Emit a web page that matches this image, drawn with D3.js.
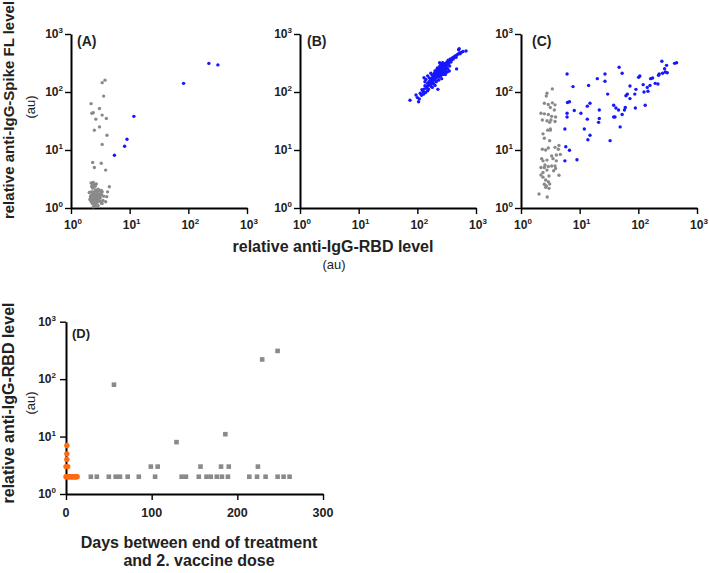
<!DOCTYPE html>
<html><head><meta charset="utf-8">
<script src="https://cdn.jsdelivr.net/npm/d3@7/dist/d3.min.js"></script>
<style>body{margin:0;background:#fff}svg{display:block}text{font-family:"Liberation Sans",Arial,sans-serif}</style>
</head><body><svg id="c" width="709" height="573"></svg>
<script>
// ---------- DATA ----------
const logTicks=[1,10,100,1000];
const panelLabels=["(A)","(B)","(C)","(D)"];
const dTicks=[0,100,200,300];
// Panel A: [RBD, Spike FL]
const aGray=[[3.8,160],[3.4,145],[3.6,85],[2.2,63],[3.06,52],[2.27,43],[2.4,44],[3.4,40],[2.65,34],[4.0,35],[3.06,25],[2.5,22],[4.1,18],[3.4,12.5],
[2.34,6.1],[3.28,5.9],[2.5,5.0],[3.9,4.5],[4.5,2.33],[4.2,1.9],[4.06,1.57],[3.9,1.28],[3.37,1.2],
[2.2,2.7],[2.3,2.6],[2.4,2.75],[2.5,2.5],[2.6,2.4],[2.25,2.35],[2.45,2.3],[2.7,2.6],[2.35,2.2],
[2.2,1.9],[2.4,1.85],[2.6,1.95],[2.8,1.9],[3.0,2.0],[3.2,1.8],[3.4,1.9],[2.3,1.7],[2.5,1.75],[2.7,1.7],[2.9,1.75],[3.1,1.65],[3.3,1.7],
[2.15,1.55],[2.35,1.6],[2.55,1.55],[2.75,1.6],[2.95,1.55],[3.15,1.5],[2.25,1.45],[2.45,1.4],[2.65,1.45],[2.85,1.4],[3.05,1.35],
[2.2,1.3],[2.4,1.35],[2.6,1.3],[2.8,1.25],[2.3,1.2],[2.5,1.15],[2.7,1.2],[2.9,1.1],[2.4,1.05],[2.6,1.08],[3.35,1.2],[2.1,1.4],[2.2,1.65],
[3.6,1.6],[3.5,1.35],[2.35,1.9],[2.65,2.05],[2.9,2.1],[3.3,2.0],[2.45,1.25],[2.75,1.35],[3.0,1.5],[3.2,1.28],[2.55,1.65],[2.05,1.85]];
const aBlue=[[5.5,8.1],[8.2,11.6],[9.0,15.3],[11.8,38],[83,141],[224,311],[319,293]];
// Panel B
const bBlue=[[75,72],[105,68],[108,76],[95,89],[100,80],[112,95],[118,88],[125,102],[130,112],[120,110],[138,98],[142,118],[135,128],[148,125],
[150,140],[155,112],[160,132],[158,150],[165,145],[168,160],[172,125],[175,170],[178,150],[182,165],[185,180],[188,140],[190,172],[192,195],
[195,160],[198,185],[200,205],[202,170],[205,190],[208,215],[210,178],[212,200],[215,225],[218,188],[220,210],[222,240],[225,195],[228,220],
[230,235],[232,180],[235,205],[238,250],[240,225],[242,195],[245,215],[248,240],[250,265],[252,205],[255,230],[258,250],[260,215],[262,280],
[265,240],[268,225],[270,260],[272,200],[275,245],[278,290],[280,230],[282,265],[285,250],[288,300],[290,220],[295,275],[298,255],[300,310],
[305,240],[310,285],[315,265],[320,330],[325,300],[330,250],[335,355],[340,310],[350,340],[355,280],[365,370],[375,330],[385,360],[400,390],
[410,370],[420,400],[440,420],[455,395],[467,250],[470,430],[490,450],[505,537],[517,558],[520,470],[535,457],[560,480],[600,500],[676,510],
[220,260],[240,270],[200,230],[180,195],[160,175],[250,190],[265,205],[285,225],[305,260],[230,160],[210,150],[195,210],[175,140],[255,300],
[270,320],[245,285],[215,245],[150,105],[128,92],[135,150],[224,111],[130,176],[341,333],[277,311],
[150,190],[180,120],[260,170],[300,200],[200,130],[320,220],[170,210],[140,165],[240,320],[350,230]];
// Panel C
const cGray=[[3.42,113],[2.77,95],[2.7,85],[2.5,64],[2.92,61],[3.42,65],[3.8,60],[3.16,54],[3.7,49],[2.5,42],[2.92,41],[3.33,38],[3.89,37],
[2.19,43],[2.31,33],[2.77,32],[3.24,33],[3.08,30],[3.8,31],[3.16,22],[2.85,22],[3.16,23],[2.37,19],[2.5,16],[3.08,14.5],[2.31,10.3],[2.63,10],
[2.92,10.8],[4.44,12],[3.8,11.1],[4.33,10.3],[3.33,7.9],[4.0,8.2],[4.68,8.4],[2.25,7.1],[2.37,6.5],[2.77,6.7],[3.51,7.1],[4.0,6.5],[2.56,5.5],
[2.19,5.0],[2.5,5.0],[2.92,5.2],[3.33,5.3],[3.89,4.8],[2.77,4.5],[3.6,4.4],[2.19,3.7],[2.37,3.4],[3.0,3.56],[2.63,3.04],[2.92,2.84],[2.5,2.56],
[2.7,2.4],[3.08,2.6],[2.63,2.27],[3.0,2.18],[2.03,1.74],[2.8,1.55],[4.44,3.66],[3.8,5.3],[2.37,4.1]];
const cBlue=[[6.1,204],[7.7,124],[6.2,66],[6.7,68],[6.1,43],[6.1,37],[8.1,48],[10.5,43],[5.6,23],[12,23],[5.8,11.4],[6.7,9.9],[5.6,6.5],[9.0,6.8],
[14.2,130],[20,170],[27,204],[27,153],[47,267],[53,210],[30,92],[13.5,57],[15,64],[21.6,49],[21.6,35],[21,30],[13.5,34],[15,18],[13.8,15],
[33,14.5],[38,59],[41.5,53],[46,49],[38,37],[40,37],[49,25],[53,41],[60,54],[58,49],[61.5,86],[65,92],[72,127],[72,77],[89,53],[87,92],
[91,111],[101,179],[106,189],[121,134],[131,59],[125,100],[142,120],[146,103],[158,130],[162,170],[175,174],[194,141],[216,137],[221,194],
[227,204],[252,338],[259,210],[288,221],[280,252],[303,288],[311,215],[415,312],[449,320]];
// Panel D: days, relative anti-IgG-RBD level
const dGrayDays=[29,36,50,58,63,72,85,104,135,140,155,164,169,176,182,189,214,223,233,247,254,261,99,107,157,181,190,224,129,186,56,229,247];
const dGrayVals=[2,2,2,2,2,2,2,2,2,2,2,2,2,2,2,2,2,2,2,2,2,2,3,3,3,3,3,3,8,11,80,220,310];
const dOrangeDays=[0,1,2,3,4,5,6,7,8,9,10,11,12,13,0,2,1,1,1];
const dOrangeVals=[2,2,2,2,2,2,2,2,2,2,2,2,2,2,3,3,4,5,7];

// ---------- DRAW ----------
const svg=d3.select("#c");
const GRAY="#8a8a8a",BLUE="#1616ff",ORANGE="#ff6a13";
const minorLog=[];
logTicks.slice(0,3).forEach(d=>{for(let k=2;k<=9;k++)minorLog.push(d*k);});

function styleAxis(g,w){g.select(".domain").attr("stroke","#000").attr("stroke-width",w);g.selectAll(".tick line").attr("stroke","#000").attr("stroke-width",1.4);}

function supLabel(g,x,y,d,anchor){
  const e=Math.round(Math.log10(d));
  const t=g.append("text").attr("x",x).attr("y",y).attr("text-anchor",anchor)
    .attr("font-size",12).attr("font-weight","bold").attr("fill","#222");
  t.append("tspan").text("10");
  t.append("tspan").attr("font-size",8).attr("dy",-5).text(e);
}

function logAxes(left,bottom,xS,yS,xLog,labelOffset){
  const gy=svg.append("g").attr("transform",`translate(${left},0)`);
  gy.call(d3.axisLeft(yS).tickValues(minorLog).tickSize(3).tickSizeOuter(0).tickFormat(""));
  gy.call(d3.axisLeft(yS).tickValues(logTicks).tickSize(6).tickSizeOuter(0).tickFormat(""));
  styleAxis(gy,2);
  logTicks.forEach(d=>supLabel(svg,left-labelOffset,yS(d)+4,d,"end"));
  if(xLog){
    const gx=svg.append("g").attr("transform",`translate(0,${bottom})`);
    gx.call(d3.axisBottom(xS).tickValues(minorLog).tickSize(3).tickSizeOuter(0).tickFormat(""));
    gx.call(d3.axisBottom(xS).tickValues(logTicks).tickSize(6).tickSizeOuter(0).tickFormat(""));
    styleAxis(gx,2);
    logTicks.forEach(d=>supLabel(svg,xS(d)+2,bottom+21,d,"middle"));
  }
}

function scatterPanel(left,lab,labDx,sets){
  const x=d3.scaleLog().domain([1,1000]).range([left,left+176]);
  const y=d3.scaleLog().domain([1,1000]).range([208,34]);
  logAxes(left,208,x,y,true,8);
  svg.append("text").attr("x",left+labDx).attr("y",46).attr("font-size",14).attr("font-weight","bold").attr("fill","#222").text(lab);
  sets.forEach(s=>{
    svg.append("g").selectAll("circle").data(s.data).join("circle")
      .attr("cx",d=>x(d[0])).attr("cy",d=>y(d[1])).attr("r",1.7).attr("fill",s.color);
  });
}

scatterPanel(71,panelLabels[0],6,[{data:aGray,color:GRAY},{data:aBlue,color:BLUE}]);
scatterPanel(300,panelLabels[1],7,[{data:bBlue,color:BLUE}]);
scatterPanel(521,panelLabels[2],11,[{data:cGray,color:GRAY},{data:cBlue,color:BLUE}]);

// Titles for A-C
svg.append("text").attr("transform","translate(14,110) rotate(-90)").attr("text-anchor","middle")
  .attr("font-size",15).attr("font-weight","bold").attr("fill","#222").text("relative anti-IgG-Spike FL level");
svg.append("text").attr("transform","translate(35,107) rotate(-90)").attr("text-anchor","middle")
  .attr("font-size",13).attr("fill","#222").text("(au)");
svg.append("text").attr("x",333).attr("y",252).attr("text-anchor","middle")
  .attr("font-size",16).attr("font-weight","bold").attr("fill","#222").text("relative anti-IgG-RBD level");
svg.append("text").attr("x",334).attr("y",269).attr("text-anchor","middle")
  .attr("font-size",13).attr("fill","#222").text("(au)");

// Panel D
const dx=d3.scaleLinear().domain([0,300]).range([66,323]);
const dy=d3.scaleLog().domain([1,1000]).range([494,321.7]);
logAxes(66,494,null,dy,false,10);
const gdx=svg.append("g").attr("transform","translate(0,494)");
gdx.call(d3.axisBottom(dx).tickValues(d3.range(0,301,10)).tickSize(3).tickSizeOuter(0).tickFormat(""));
gdx.call(d3.axisBottom(dx).tickValues(dTicks).tickSize(6).tickSizeOuter(0).tickFormat(""));
styleAxis(gdx,2);
dTicks.forEach(d=>svg.append("text").attr("x",dx(d)).attr("y",517).attr("text-anchor","middle")
  .attr("font-size",12.5).attr("font-weight","bold").attr("fill","#222").text(d));
svg.append("text").attr("x",72).attr("y",338).attr("font-size",13).attr("font-weight","bold").attr("fill","#222").text(panelLabels[3]);
svg.append("g").selectAll("rect").data(dGrayDays.map((d,i)=>[d,dGrayVals[i]])).join("rect")
  .attr("x",d=>dx(d[0])-2.3).attr("y",d=>dy(d[1])-2.3).attr("width",4.6).attr("height",4.6).attr("fill",GRAY);
svg.append("g").selectAll("circle").data(dOrangeDays.map((d,i)=>[d,dOrangeVals[i]])).join("circle")
  .attr("cx",d=>dx(d[0])).attr("cy",d=>dy(d[1])).attr("r",2.7).attr("fill",ORANGE);
svg.append("text").attr("transform","translate(14,403) rotate(-90)").attr("text-anchor","middle")
  .attr("font-size",16).attr("font-weight","bold").attr("fill","#222").text("relative anti-IgG-RBD level");
svg.append("text").attr("transform","translate(35,403) rotate(-90)").attr("text-anchor","middle")
  .attr("font-size",13).attr("fill","#222").text("(au)");
svg.append("text").attr("x",199).attr("y",548).attr("text-anchor","middle")
  .attr("font-size",16).attr("font-weight","bold").attr("fill","#222").text("Days between end of treatment");
svg.append("text").attr("x",199).attr("y",566).attr("text-anchor","middle")
  .attr("font-size",16).attr("font-weight","bold").attr("fill","#222").text("and 2. vaccine dose");
</script></body></html>
